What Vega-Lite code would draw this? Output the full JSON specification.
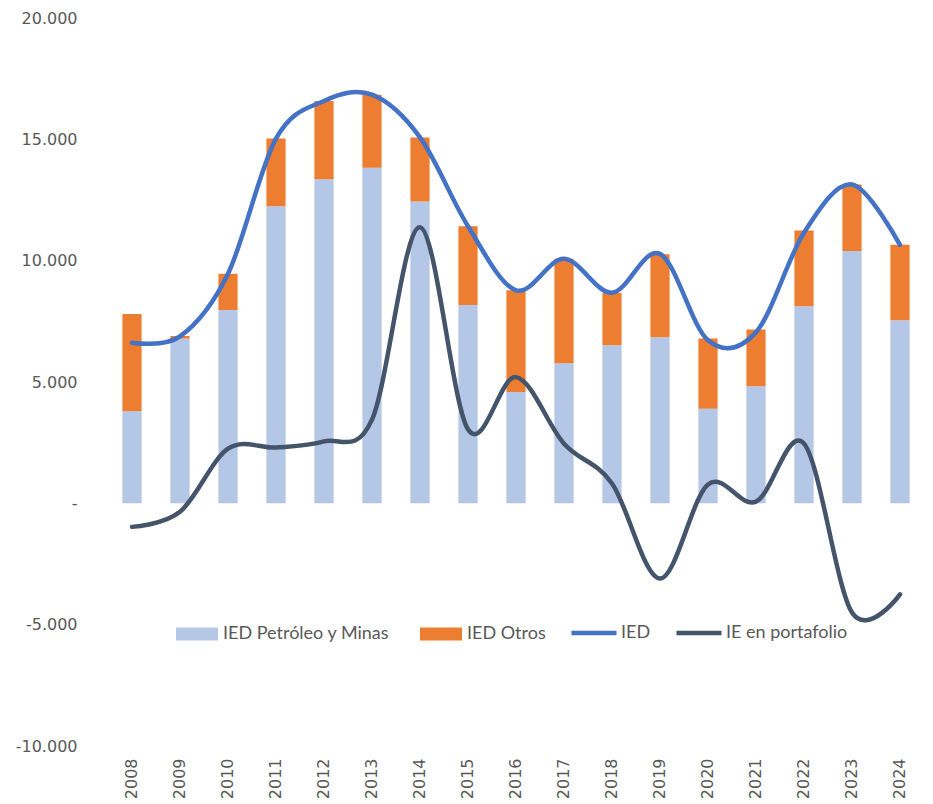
{
  "$schema": "https://vega.github.io/schema/vega-lite/v6.json",
  "width": 816,
  "height": 728,
  "autosize": {"type": "none"},
  "padding": {"left": 108, "top": 18, "right": 9, "bottom": 58},
  "background": "white",
  "config": {
    "view": {"stroke": null},
    "locale": {"number": {"decimal": ",", "thousands": ".", "grouping": [3], "currency": ["$", ""], "minus": "-"}},
    "axis": {"labelFont": "DejaVu Sans", "labelFontSize": 16, "labelColor": "#595959", "grid": false, "domain": false, "ticks": false, "title": null},
    "legend": {"labelFont": "Lato", "labelFontSize": 18, "labelColor": "#595959", "title": null, "padding": 0, "labelLimit": 0}
  },
  "datasets": {
    "bars": [
      {"year": "2008", "serie": "IED Petróleo y Minas", "ord": 1, "value": 3790},
      {"year": "2008", "serie": "IED Otros", "ord": 2, "value": 4010},
      {"year": "2009", "serie": "IED Petróleo y Minas", "ord": 1, "value": 6790},
      {"year": "2009", "serie": "IED Otros", "ord": 2, "value": 110},
      {"year": "2010", "serie": "IED Petróleo y Minas", "ord": 1, "value": 7970},
      {"year": "2010", "serie": "IED Otros", "ord": 2, "value": 1490},
      {"year": "2011", "serie": "IED Petróleo y Minas", "ord": 1, "value": 12240},
      {"year": "2011", "serie": "IED Otros", "ord": 2, "value": 2790},
      {"year": "2012", "serie": "IED Petróleo y Minas", "ord": 1, "value": 13360},
      {"year": "2012", "serie": "IED Otros", "ord": 2, "value": 3220},
      {"year": "2013", "serie": "IED Petróleo y Minas", "ord": 1, "value": 13830},
      {"year": "2013", "serie": "IED Otros", "ord": 2, "value": 3010},
      {"year": "2014", "serie": "IED Petróleo y Minas", "ord": 1, "value": 12440},
      {"year": "2014", "serie": "IED Otros", "ord": 2, "value": 2640},
      {"year": "2015", "serie": "IED Petróleo y Minas", "ord": 1, "value": 8170},
      {"year": "2015", "serie": "IED Otros", "ord": 2, "value": 3250},
      {"year": "2016", "serie": "IED Petróleo y Minas", "ord": 1, "value": 4590},
      {"year": "2016", "serie": "IED Otros", "ord": 2, "value": 4190},
      {"year": "2017", "serie": "IED Petróleo y Minas", "ord": 1, "value": 5770},
      {"year": "2017", "serie": "IED Otros", "ord": 2, "value": 4310},
      {"year": "2018", "serie": "IED Petróleo y Minas", "ord": 1, "value": 6510},
      {"year": "2018", "serie": "IED Otros", "ord": 2, "value": 2160},
      {"year": "2019", "serie": "IED Petróleo y Minas", "ord": 1, "value": 6840},
      {"year": "2019", "serie": "IED Otros", "ord": 2, "value": 3420},
      {"year": "2020", "serie": "IED Petróleo y Minas", "ord": 1, "value": 3900},
      {"year": "2020", "serie": "IED Otros", "ord": 2, "value": 2890},
      {"year": "2021", "serie": "IED Petróleo y Minas", "ord": 1, "value": 4820},
      {"year": "2021", "serie": "IED Otros", "ord": 2, "value": 2340},
      {"year": "2022", "serie": "IED Petróleo y Minas", "ord": 1, "value": 8120},
      {"year": "2022", "serie": "IED Otros", "ord": 2, "value": 3120},
      {"year": "2023", "serie": "IED Petróleo y Minas", "ord": 1, "value": 10400},
      {"year": "2023", "serie": "IED Otros", "ord": 2, "value": 2740},
      {"year": "2024", "serie": "IED Petróleo y Minas", "ord": 1, "value": 7540},
      {"year": "2024", "serie": "IED Otros", "ord": 2, "value": 3120}
    ],
    "lines": [
      {"year": "2008", "serie": "IED", "value": 6620},
      {"year": "2009", "serie": "IED", "value": 6880},
      {"year": "2010", "serie": "IED", "value": 9460},
      {"year": "2011", "serie": "IED", "value": 15030},
      {"year": "2012", "serie": "IED", "value": 16580},
      {"year": "2013", "serie": "IED", "value": 16840},
      {"year": "2014", "serie": "IED", "value": 15080},
      {"year": "2015", "serie": "IED", "value": 11420},
      {"year": "2016", "serie": "IED", "value": 8780},
      {"year": "2017", "serie": "IED", "value": 10080},
      {"year": "2018", "serie": "IED", "value": 8680},
      {"year": "2019", "serie": "IED", "value": 10280},
      {"year": "2020", "serie": "IED", "value": 6720},
      {"year": "2021", "serie": "IED", "value": 7050},
      {"year": "2022", "serie": "IED", "value": 11150},
      {"year": "2023", "serie": "IED", "value": 13140},
      {"year": "2024", "serie": "IED", "value": 10650},
      {"year": "2008", "serie": "IE en portafolio", "value": -970},
      {"year": "2009", "serie": "IE en portafolio", "value": -350},
      {"year": "2010", "serie": "IE en portafolio", "value": 2250},
      {"year": "2011", "serie": "IE en portafolio", "value": 2300},
      {"year": "2012", "serie": "IE en portafolio", "value": 2550},
      {"year": "2013", "serie": "IE en portafolio", "value": 3450},
      {"year": "2014", "serie": "IE en portafolio", "value": 11380},
      {"year": "2015", "serie": "IE en portafolio", "value": 3050},
      {"year": "2016", "serie": "IE en portafolio", "value": 5200},
      {"year": "2017", "serie": "IE en portafolio", "value": 2460},
      {"year": "2018", "serie": "IE en portafolio", "value": 820},
      {"year": "2019", "serie": "IE en portafolio", "value": -3100},
      {"year": "2020", "serie": "IE en portafolio", "value": 780},
      {"year": "2021", "serie": "IE en portafolio", "value": 70},
      {"year": "2022", "serie": "IE en portafolio", "value": 2460},
      {"year": "2023", "serie": "IE en portafolio", "value": -4500},
      {"year": "2024", "serie": "IE en portafolio", "value": -3750}
    ]
  },
  "layer": [
    {
      "mark": {"type": "rule", "color": "#D9D9D9", "strokeWidth": 1.5},
      "encoding": {"y": {"datum": 0, "type": "quantitative"}}
    },
    {
      "data": {"name": "bars"},
      "mark": {"type": "bar"},
      "encoding": {
        "x": {"field": "year", "type": "ordinal", "scale": {"paddingInner": 0.6, "paddingOuter": 0.3},
              "axis": {"labelAngle": -90, "labelPadding": 12}},
        "y": {"field": "value", "type": "quantitative", "stack": "zero", "aggregate": "sum",
              "scale": {"domain": [-10000, 20000], "nice": false},
              "axis": {"values": [-10000, -5000, 0, 5000, 10000, 15000, 20000], "format": ",.0f",
                       "labelExpr": "datum.value == 0 ? '-' : datum.label", "labelPadding": 31}},
        "fill": {"field": "serie", "type": "nominal",
                 "scale": {"domain": ["IED Petróleo y Minas", "IED Otros"], "range": ["#B4C7E7", "#ED7D31"]},
                 "legend": {"orient": "none", "legendX": 76, "legendY": 603, "direction": "horizontal",
                            "symbolType": "M-1.615,-0.5H1.615V0.5H-1.615Z", "symbolSize": 676,
                            "labelOffset": 13, "columnPadding": 30, "symbolStrokeWidth": 0, "symbolOpacity": 1}},
        "order": {"field": "ord", "type": "quantitative"}
      }
    },
    {
      "data": {"name": "lines"},
      "mark": {"type": "line", "interpolate": "cardinal", "strokeWidth": 4.5, "strokeCap": "round"},
      "encoding": {
        "x": {"field": "year", "type": "ordinal"},
        "y": {"field": "value", "type": "quantitative"},
        "stroke": {"field": "serie", "type": "nominal",
                   "scale": {"domain": ["IED", "IE en portafolio"], "range": ["#4472C4", "#44546A"]},
                   "legend": {"orient": "none", "legendX": 461, "legendY": 590, "direction": "horizontal",
                              "symbolType": "stroke", "symbolSize": 2025, "symbolStrokeWidth": 4.5,
                              "labelOffset": 2, "columnPadding": 16}}
      }
    }
  ]
}
